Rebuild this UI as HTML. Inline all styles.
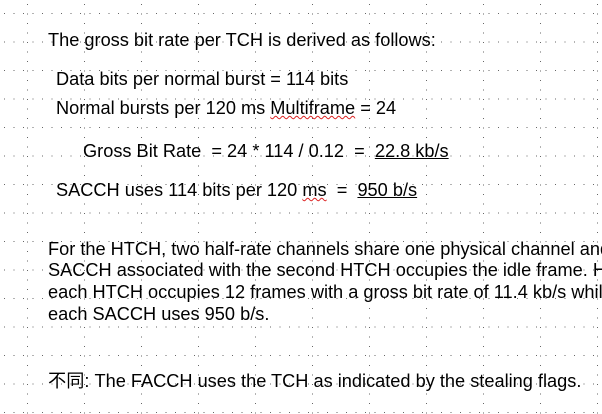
<!DOCTYPE html>
<html><head><meta charset="utf-8"><style>
html,body{margin:0;padding:0;}
body{width:602px;height:414px;overflow:hidden;background:#fff;position:relative;font-family:"Liberation Sans","Noto Sans CJK SC",sans-serif;color:#000;}
#page{position:absolute;left:0;top:0;width:602px;height:414px;overflow:hidden;}
.t{position:absolute;white-space:nowrap;font-size:18.2px;line-height:20px;}
.w{width:554px;overflow:hidden;}
u{text-decoration:underline;}
.sq{text-decoration:underline wavy #d22;text-decoration-thickness:1px;}
svg{position:absolute;left:0;top:0;}
</style></head><body>
<div id="page">
<svg width="602" height="414">
<defs>
<pattern id="h" width="9.5" height="28.5" patternUnits="userSpaceOnUse" y="13"><rect x="4" y="0" width="1" height="1" fill="#666"/></pattern>
<pattern id="v" width="57" height="9.5" patternUnits="userSpaceOnUse" x="27"><rect x="0" y="4" width="1" height="1" fill="#666"/></pattern>
</defs>
<rect width="602" height="414" fill="url(#h)"/>
<rect width="602" height="414" fill="url(#v)"/>
</svg>
<div class="t" style="left:48px;top:30px">The gross bit rate per TCH is derived as follows:</div>
<div class="t" style="left:56px;top:69px">Data bits per normal burst = 114 bits</div>
<div class="t" style="left:56px;top:98px">Normal bursts per 120 ms <span class="sq">Multiframe</span> = 24</div>
<div class="t" style="left:83px;top:141px">Gross Bit Rate&nbsp; = 24 * 114 / 0.12&nbsp; =&nbsp; <u>22.8 kb/s</u></div>
<div class="t" style="left:56px;top:180px">SACCH uses 114 bits per 120 <span class="sq">ms</span>&nbsp; =&nbsp; <u>950 b/s</u></div>
<div class="t w" style="left:48px;top:239px">For the HTCH, two half-rate channels share one physical channel and</div>
<div class="t w" style="left:48px;top:260px">SACCH associated with the second HTCH occupies the idle frame. Hence</div>
<div class="t w" style="left:48px;top:282px">each HTCH occupies 12 frames with a gross bit rate of 11.4 kb/s while</div>
<div class="t" style="left:48px;top:304px">each SACCH uses 950 b/s.</div>
<div class="t" style="left:48px;top:371px">不同: The FACCH uses the TCH as indicated by the stealing flags.</div>
</div>
</body></html>
